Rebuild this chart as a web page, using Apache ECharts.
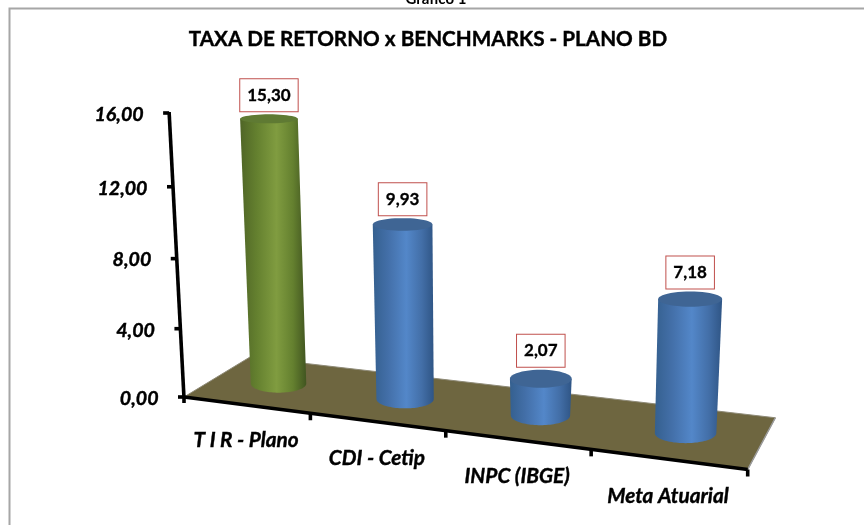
<!DOCTYPE html>
<html>
<head>
<meta charset="utf-8">
<title>Taxa de retorno x benchmarks</title>
<script src="https://cdn.jsdelivr.net/npm/echarts@6/dist/echarts.min.js"></script>
<style>
  html, body { margin: 0; padding: 0; background: #fff; overflow: hidden; }
  #chart { width: 864px; height: 525px; }
</style>
</head>
<body>
<div id="chart"></div>
<script>
const categories = ['T I R - Plano', 'CDI - Cetip', 'INPC (IBGE)', 'Meta Atuarial'];
const values = [15.30, 9.93, 2.07, 7.18];
const barKinds = ['green', 'blue', 'blue', 'blue'];
const valueTicks = [0, 4, 8, 12, 16];
const valueTickLabels = ['0,00', '4,00', '8,00', '12,00', '16,00'];
const FONT = 'Lato, "Noto Sans", sans-serif';

const GRID = { left: 184, width: 563.7, top: 127.2, height: 269.8 };
const bottom = GRID.top + GRID.height;

// floor corners and perspective terms
const origin = [184, 397];
const frontRight = [747.7, 469.5];
const backLeft = [250, 357];
const persU = -0.133, persD = 0.08, persV = 0.05;
const vanishX = 488, vanishDist = 5800;
const BAR_DEPTH = 0.5;
const AXIS_WIDTH = 3.6;

const palette = {
  green: { top: '#5f7a33', edgeL: '#4f6526', mid: '#64802f', light: '#809c40', edgeR: '#415520' },
  blue: { top: '#3f6594', edgeL: '#35608f', mid: '#436fa8', light: '#5387c9', edgeR: '#2f5585' }
};

// u: 0..1 along the category axis, d: 0..1 into the floor, f: 0..1 of the value axis
function project(u, d, f, hPx) {
  const w = 1 + persU * u + persD * d;
  const ax = frontRight[0] * (1 + persU) - origin[0], bx = backLeft[0] * (1 + persD) - origin[0];
  const ay = frontRight[1] * (1 + persU) - origin[1], by = backLeft[1] * (1 + persD) - origin[1];
  const fx = (origin[0] + ax * u + bx * d) / w;
  const fy = (origin[1] + ay * u + by * d) / w;
  const lift = hPx * f / (1 - persV * f) / w;
  return [fx + (fx - vanishX) / vanishDist * lift, fy - lift];
}

// grid pixels -> chart fractions, so that everything goes through the axes scales
function toUF(api, cat, val) {
  const p = api.coord([cat, val]);
  return { u: (p[0] - GRID.left) / GRID.width, f: (bottom - p[1]) / GRID.height };
}

function ryAt(y) {
  return 2.4 + 0.0175 * y;
}

function ellipsePoints(cx, cy, rx, ry, from, to) {
  const pts = [];
  const n = 48;
  for (let i = 0; i <= n; i++) {
    const a = from + (to - from) * i / n;
    pts.push([cx + rx * Math.cos(a), cy + ry * Math.sin(a)]);
  }
  return pts;
}

function axisText(x, y, text, align, size) {
  return {
    type: 'text',
    style: {
      x: x, y: y, text: text, align: align, verticalAlign: 'middle',
      font: 'italic bold ' + size + 'px ' + FONT, fill: '#000', stroke: '#000', lineWidth: 0.4
    }
  };
}

function renderFloor(params, api) {
  const quad = [project(0, 0, 0, 0), project(1, 0, 0, 0), project(1, 1, 0, 0), project(0, 1, 0, 0)];
  return {
    type: 'group',
    children: [
      { type: 'polygon', shape: { points: quad }, style: { fill: '#6e6640', stroke: '#8f8b78', lineWidth: 1 } },
      { type: 'polyline', shape: { points: [quad[1], quad[2]] }, style: { lineWidth: 1.5, stroke: '#9a9a9a', fill: 'none' } }
    ]
  };
}

function renderCategoryAxis(params, api) {
  const i = api.value(0);
  const children = [];
  const line = { stroke: '#000', lineWidth: AXIS_WIDTH };
  if (i === 0) {
    const c = project(0, 0, 0, 0), e = project(1, 0, 0, 0);
    children.push({ type: 'line', shape: { x1: c[0], y1: c[1], x2: e[0], y2: e[1] }, style: line });
    children.push({ type: 'line', shape: { x1: c[0], y1: c[1] - 1, x2: c[0], y2: c[1] + 6 }, style: line });
  }
  const uc = toUF(api, i, 0).u;
  const t = project(uc + 0.125, 0, 0, 0);
  children.push({ type: 'line', shape: { x1: t[0], y1: t[1], x2: t[0], y2: t[1] + 7 }, style: line });
  const lp = project(uc, 0, 0, 0);
  children.push(axisText(lp[0], lp[1] + 35.5 + i * 0.6, categories[i], 'center', 20.8));
  return { type: 'group', children: children };
}

function renderValueAxis(params, api) {
  const v = api.value(1);
  const f = toUF(api, 0, v).f;
  const p = project(0, 0, f, GRID.height);
  const line = { stroke: '#000', lineWidth: AXIS_WIDTH };
  const children = [
    { type: 'line', shape: { x1: p[0] - 6, y1: p[1], x2: p[0], y2: p[1] }, style: line },
    axisText(p[0] - 25.5, p[1] + 1.5, valueTickLabels[params.dataIndex], 'right', 19.6)
  ];
  if (params.dataIndex === 0) {
    const topEnd = project(0, 0, 1, GRID.height);
    children.push({ type: 'line', shape: { x1: p[0], y1: p[1] + 1, x2: topEnd[0], y2: topEnd[1] - 1 }, style: line });
  }
  return { type: 'group', children: children };
}

function renderBar(params, api) {
  const i = api.value(0);
  const { u, f } = toUF(api, i, api.value(1));
  const base = project(u, BAR_DEPTH, 0, 0);
  const top = project(u, BAR_DEPTH, f, GRID.height);
  const w = 1 + persU * u + persD * BAR_DEPTH;
  const rxBase = 28.4 / w;
  const rxTop = rxBase * 1.04;
  const c = palette[barKinds[i]];
  const ryB = ryAt(base[1]), ryT = ryAt(top[1]);

  const body = []
    .concat([[top[0] - rxTop, top[1]], [top[0] + rxTop, top[1]]])
    .concat(ellipsePoints(base[0], base[1], rxBase, ryB, 0, Math.PI));

  const label = values[i].toFixed(2).replace('.', ',');
  return {
    type: 'group',
    children: [
      {
        type: 'polygon',
        shape: { points: body },
        style: {
          fill: new echarts.graphic.LinearGradient(0, 0, 1, 0, [
            { offset: 0, color: c.edgeL },
            { offset: 0.25, color: c.mid },
            { offset: 0.55, color: c.light },
            { offset: 0.8, color: c.mid },
            { offset: 1, color: c.edgeR }
          ])
        }
      },
      {
        type: 'polygon',
        shape: { points: ellipsePoints(top[0], top[1], rxTop, ryT, 0, Math.PI * 2) },
        style: { fill: c.top }
      },
      {
        type: 'text',
        style: {
          x: top[0], y: top[1] - ryT - 19,
          text: label, align: 'center', verticalAlign: 'middle',
          font: 'bold 17px ' + FONT, fill: '#000', stroke: '#000', lineWidth: 0.3,
          backgroundColor: '#fff', borderColor: '#c0504d', borderWidth: 1,
          padding: [7.5, 7, 7.5, 7]
        }
      }
    ]
  };
}

const chart = echarts.init(document.getElementById('chart'), null, { renderer: 'canvas' });
chart.setOption({
  animation: false,
  backgroundColor: '#fff',
  title: {
    text: 'TAXA DE RETORNO x BENCHMARKS - PLANO BD',
    left: 423, top: 24, textAlign: 'center',
    textStyle: {
      fontFamily: 'Lato', fontWeight: 'bold', fontSize: 20.7, color: '#000',
      textBorderColor: '#000', textBorderWidth: 0.4
    }
  },
  graphic: [
    { type: 'rect', shape: { x: 9.5, y: 8.5, width: 900, height: 540 }, style: { fill: 'none', stroke: '#a6a6a6', lineWidth: 2 }, silent: true },
    { type: 'text', x: 436, y: -1, style: { text: 'Gráfico 1', align: 'center', verticalAlign: 'middle', font: 'bold 15px ' + FONT, fill: '#000' }, silent: true }
  ],
  grid: { left: GRID.left, width: GRID.width, top: GRID.top, height: GRID.height },
  xAxis: { type: 'category', data: categories, show: false },
  yAxis: { type: 'value', min: 0, max: 16, interval: 4, show: false },
  series: [
    { type: 'custom', name: 'floor', coordinateSystem: 'cartesian2d', data: [[0, 0]], renderItem: renderFloor, z: 1, silent: true, clip: false },
    { type: 'custom', name: 'category axis', coordinateSystem: 'cartesian2d', data: categories.map((c, i) => [i, 0]), renderItem: renderCategoryAxis, z: 2, silent: true, clip: false },
    { type: 'custom', name: 'value axis', coordinateSystem: 'cartesian2d', data: valueTicks.map(t => [0, t]), renderItem: renderValueAxis, z: 2, silent: true, clip: false },
    { type: 'custom', name: 'retorno', coordinateSystem: 'cartesian2d', data: values.map((v, i) => [i, v]), renderItem: renderBar, z: 3, silent: true, clip: false }
  ]
});
</script>
</body>
</html>
